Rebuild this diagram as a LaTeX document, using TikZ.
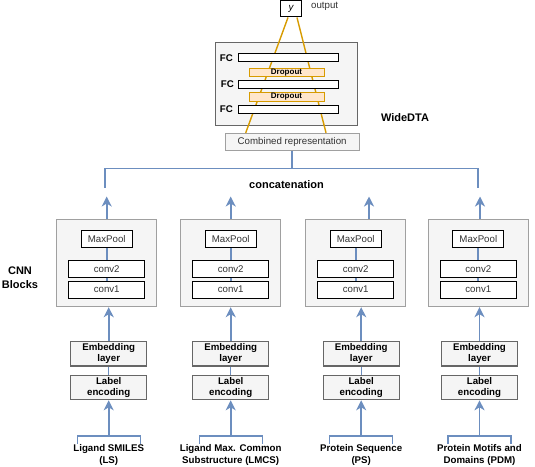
\documentclass[tikz,border=0pt]{standalone}
\usepackage{fontspec}
\setmainfont{Liberation Sans}
\usetikzlibrary{arrows.meta,calc}
\definecolor{blu}{HTML}{6C8EBF}
\definecolor{org}{HTML}{D79B00}
\definecolor{orgfill}{HTML}{FFE6CC}
\definecolor{lgray}{HTML}{F5F5F5}
\definecolor{bgray}{HTML}{A0A0A0}
\definecolor{dgray}{HTML}{666666}
\definecolor{txt}{HTML}{333333}
\tikzset{
  outer/.style={draw=bgray, fill=lgray, line width=1pt, minimum width=100pt, minimum height=87.4pt, inner sep=0pt},
  layer/.style={draw=black, fill=white, line width=1pt, minimum width=76pt, minimum height=17pt, inner sep=0pt, text=txt},
  pool/.style={layer, minimum width=50.7pt, minimum height=16.7pt},
  prep/.style={draw=dgray, fill=lgray, line width=1.1pt, minimum width=76pt, minimum height=24.5pt, inner sep=0pt, align=center, font=\bfseries\fontsize{9.7}{11.5}\selectfont},
  fcbar/.style={draw=black, fill=white, line width=1pt, minimum width=100pt, minimum height=8.3pt, inner sep=0pt},
  drop/.style={draw=org, fill=orgfill, line width=0.7pt, minimum width=75pt, minimum height=8.6pt, inner sep=0pt, font=\bfseries\fontsize{8}{9}\selectfont},
  fclbl/.style={anchor=east, inner sep=0pt, font=\bfseries\fontsize{9.7}{11}\selectfont},
  lbl/.style={inner sep=0pt, align=center, font=\bfseries\fontsize{11}{14}\selectfont},
  inp/.style={inner sep=0pt, align=center, font=\bfseries\fontsize{9.7}{12}\selectfont},
  flow/.style={draw=blu, line width=1.8pt},
  thinflow/.style={draw=blu, line width=1pt},
  arr/.style={flow, -{Stealth[length=10pt,width=10pt,inset=3pt]}},
  orl/.style={draw=org, line width=1.4pt}
}
\begin{document}
\begin{tikzpicture}[x=1pt,y=-1pt,font=\fontsize{9.7}{12}\selectfont]
\useasboundingbox (0,0) rectangle (535,466);
% WideDTA head
\node[draw=dgray, fill=lgray, line width=1.1pt, minimum width=142pt, minimum height=83.4pt, inner sep=0pt] (wide) at (286.7,84) {};
\node[draw=black, fill=white, line width=1pt, minimum width=20.5pt, minimum height=16.5pt, inner sep=0pt, font=\itshape\fontsize{9.7}{12}\selectfont] (yout) at (291,8.7) {y};
\node[inner sep=0pt, text=txt, anchor=west] (outlbl) at (311,6) {output};
\node[draw=bgray, fill=lgray, line width=1pt, minimum width=134.3pt, minimum height=16.7pt, inner sep=0pt, text=txt] (comb) at (292.2,141.7) {Combined representation};
\draw[orl] ($(yout.south)+(-3,0)$) -- ($(comb.north)+(-46.5,0)$);
\draw[orl] ($(yout.south)+(6,0)$) -- ($(comb.north)+(33.8,0)$);
\node[fcbar] (fc1) at (288.3,57.5) {};
\node[fcbar] (fc2) at (288.3,84.2) {};
\node[fcbar] (fc3) at (288.3,109.3) {};
\node[drop] (dr1) at (286.5,72.2) {Dropout};
\node[drop] (dr2) at (286.5,96.9) {Dropout};
\node[fclbl] (fcl1) at (233,57.8) {FC};
\node[fclbl] (fcl2) at (234,84.5) {FC};
\node[fclbl] (fcl3) at (233,109.6) {FC};
\node[lbl] (widelbl) at (405,118) {WideDTA};
\node[lbl] (concat) at (286.5,185) {concatenation};
\node[lbl] (cnnlbl) at (20,277.5) {CNN\\Blocks};
% concatenation lines
\coordinate (hl1) at (105,187.5);
\coordinate (hl4) at (478.3,187.5);
\coordinate (hm) at (291,168.5);
\draw[flow] (hl1) -- (hl1 |- hm) -- (hl4 |- hm) -- (hl4);
\draw[flow] (comb.south) -- (comb.south |- hm);
% columns
\foreach \i/\cx/\lx/\ux/\ta/\tb in {1/106.7/108.7/106.7/Ligand SMILES/(LS),2/230.7/230.7/230.7/Ligand Max. Common/Substructure (LMCS),3/355.7/361.2/369/Protein Sequence/(PS),4/478.3/479.5/480/Protein Motifs and/Domains (PDM)}{
  \node[outer] (cnn\i) at (\cx,263) {};
  \node[pool] (mp\i) at (\cx,239) {MaxPool};
  \node[layer] (ctwo\i) at (\cx,268.7) {conv2};
  \node[layer] (cone\i) at (\cx,289.7) {conv1};
  \draw[flow] (mp\i.south) -- (ctwo\i.north);
  \draw[flow] (ctwo\i.south) -- (cone\i.north);
  \coordinate (top\i) at (\ux,196.5);
  \draw[arr] (top\i |- cnn\i.north) -- (top\i);
  \node[prep] (emb\i) at (\lx,353.7) {Embedding\\layer};
  \node[prep] (lab\i) at (\lx,387.5) {Label\\encoding};
  \draw[thinflow] (lab\i.north) -- (emb\i.south);
  \draw[arr] (emb\i.north) -- (emb\i.north |- cnn\i.south);
  \node[inp] (in\i) at (\lx,454.5) {\ta\\\tb};
  \coordinate (br\i) at (\lx,436);
  \draw[thinflow, line width=1.4pt] ($(br\i)+(-31.5,8)$) -- ($(br\i)+(-31.5,0)$) -- ($(br\i)+(31.5,0)$) -- ($(br\i)+(31.5,8)$);
  \draw[arr] (br\i) -- (lab\i.south);
}
\end{tikzpicture}
\end{document}
